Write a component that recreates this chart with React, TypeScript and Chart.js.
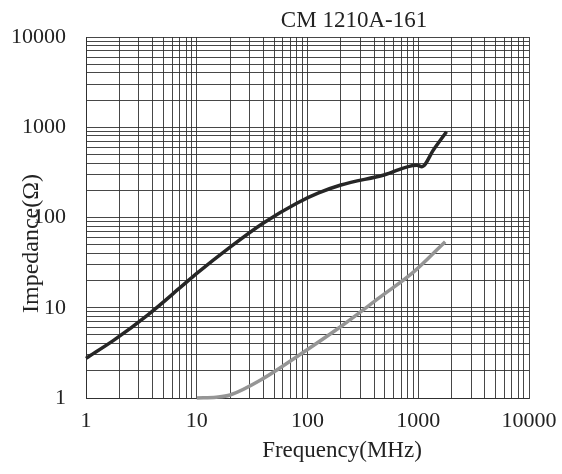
import React, { useEffect, useRef } from 'react';
import { Chart, registerables } from 'chart.js';

Chart.register(...registerables);

const chartTitle = 'CM 1210A-161';
const xTitle = 'Frequency(MHz)';
const yTitle = 'Impedance(Ω)';

const decadeLabels = [1, 10, 100, 1000, 10000];
const gridSteps = [1, 2, 3, 4, 5, 6, 7, 8, 9];

// Black curve: |Z|
const zFreq = [1, 1.8, 3.6, 7.2, 10, 20, 40, 80, 126, 200, 490, 970, 1080, 1370, 1800];
const zImp = [2.75, 4.4, 8.3, 17, 24, 47, 87, 144, 187, 229, 296, 380, 366, 560, 890];

// Gray curve: R
const rFreq = [10, 15, 20, 40, 80, 200, 455, 910, 1750];
const rImp = [1.0, 1.02, 1.08, 1.65, 2.87, 6.2, 13.2, 25, 54];

const FONT = '"Liberation Serif", "Times New Roman", serif';
const TEXT = '#222';
const GRID = 'rgba(45,45,45,0.88)';

function buildGridTicks(minDec: number, maxDec: number) {
  const out: { value: number }[] = [];
  for (let e = minDec; e < maxDec; e++) {
    for (const s of gridSteps) out.push({ value: s * Math.pow(10, e) });
  }
  out.push({ value: Math.pow(10, maxDec) });
  return out;
}

const textPlugin = {
  id: 'refTexts',
  afterDraw(chart: any) {
    const { ctx, chartArea } = chart;
    ctx.save();
    ctx.fillStyle = TEXT;
    ctx.font = `23px ${FONT}`;
    ctx.textAlign = 'center';
    ctx.textBaseline = 'alphabetic';
    ctx.fillText(chartTitle, chartArea.left + 268, chartArea.top - 10);
    ctx.fillText(xTitle, chartArea.left + 256, chartArea.bottom + 59);
    ctx.translate(chartArea.left - 48, chartArea.bottom - 85);
    ctx.rotate(-Math.PI / 2);
    ctx.textAlign = 'left';
    ctx.font = `24px ${FONT}`;
    ctx.fillText(yTitle, 0, 0);
    ctx.restore();
  },
};

const labelCb = (v: any) => {
  const n = Number(v);
  return decadeLabels.some((d) => Math.abs(d - n) < 1e-9) ? String(n) : '';
};

export default function App() {
  const ref = useRef<HTMLCanvasElement | null>(null);

  useEffect(() => {
    document.body.style.margin = '0';
    const canvas = ref.current;
    if (!canvas) return;
    const chart = new Chart(canvas, {
      type: 'line',
      data: {
        datasets: [
          {
            data: zFreq.map((x, i) => ({ x, y: zImp[i] })),
            borderColor: '#262626',
            borderWidth: 3.5,
            pointRadius: 0,
            cubicInterpolationMode: 'monotone',
            fill: false,
            clip: 4,
          },
          {
            data: rFreq.map((x, i) => ({ x, y: rImp[i] })),
            borderColor: '#959595',
            borderWidth: 3.5,
            pointRadius: 0,
            cubicInterpolationMode: 'monotone',
            fill: false,
            clip: 4,
          },
        ],
      },
      options: {
        animation: false,
        responsive: false,
        devicePixelRatio: 1,
        layout: { padding: { left: 0, right: 33, top: 37, bottom: 0 } },
        plugins: {
          legend: { display: false },
          tooltip: { enabled: false },
          title: { display: false },
        },
        scales: {
          x: {
            type: 'logarithmic',
            min: 1,
            max: 10000,
            afterBuildTicks: (scale: any) => {
              scale.ticks = buildGridTicks(0, 4);
            },
            afterFit: (scale: any) => {
              scale.height = 76;
              scale.paddingLeft = 0;
              scale.paddingRight = 0;
            },
            ticks: {
              autoSkip: false,
              maxRotation: 0,
              minRotation: 0,
              padding: 10,
              color: TEXT,
              font: { family: FONT, size: 22 },
              callback: labelCb,
            },
            grid: { color: GRID, lineWidth: 1, drawTicks: false },
            border: { display: true, color: GRID, width: 1 },
          },
          y: {
            type: 'logarithmic',
            min: 1,
            max: 10000,
            afterBuildTicks: (scale: any) => {
              scale.ticks = buildGridTicks(0, 4);
            },
            afterFit: (scale: any) => {
              scale.width = 86;
              scale.paddingTop = 0;
              scale.paddingBottom = 0;
            },
            ticks: {
              autoSkip: false,
              padding: 20,
              color: TEXT,
              font: { family: FONT, size: 22 },
              callback: labelCb,
            },
            grid: { color: GRID, lineWidth: 1, drawTicks: false },
            border: { display: true, color: GRID, width: 1 },
          },
        },
      } as any,
      plugins: [textPlugin],
    });
    return () => chart.destroy();
  }, []);

  return (
    <div style={{ width: 562, height: 474, background: '#fff' }}>
      <canvas ref={ref} width={562} height={474} style={{ display: 'block' }} />
    </div>
  );
}
